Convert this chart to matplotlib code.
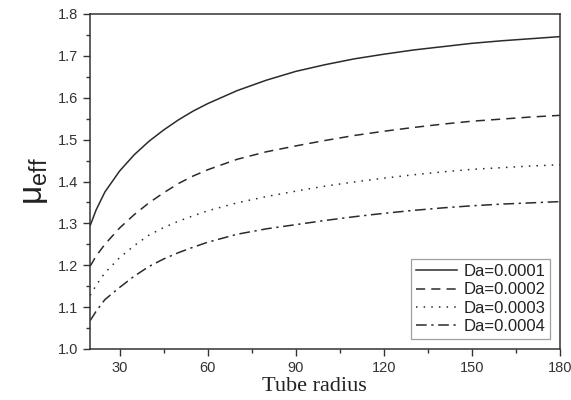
import numpy as np
import matplotlib
matplotlib.use("Agg")
import matplotlib.pyplot as plt
from matplotlib.ticker import MultipleLocator

# values
radius = [20, 22, 25, 30, 35, 40, 45, 50, 55, 60, 70, 80, 90, 100, 110, 120, 130, 140, 150, 160, 170, 180]
da1 = [1.295, 1.332, 1.375, 1.425, 1.464, 1.496, 1.523, 1.547, 1.568, 1.586, 1.617, 1.642, 1.663, 1.679, 1.693, 1.704, 1.714, 1.722, 1.730, 1.736, 1.741, 1.746]
da2 = [1.198, 1.222, 1.250, 1.289, 1.321, 1.349, 1.373, 1.395, 1.413, 1.428, 1.453, 1.471, 1.485, 1.498, 1.510, 1.520, 1.529, 1.537, 1.544, 1.549, 1.554, 1.558]
da3 = [1.128, 1.152, 1.182, 1.218, 1.247, 1.272, 1.290, 1.305, 1.318, 1.330, 1.349, 1.364, 1.377, 1.389, 1.399, 1.408, 1.416, 1.423, 1.429, 1.433, 1.437, 1.440]
da4 = [1.068, 1.090, 1.118, 1.147, 1.174, 1.197, 1.215, 1.230, 1.243, 1.255, 1.274, 1.287, 1.297, 1.307, 1.316, 1.324, 1.331, 1.337, 1.342, 1.346, 1.349, 1.352]
labels = ["Da=0.0001", "Da=0.0002", "Da=0.0003", "Da=0.0004"]

plt.rcParams["font.family"] = ["Liberation Sans", "DejaVu Sans"]
plt.rcParams["mathtext.fontset"] = "custom"
plt.rcParams["mathtext.rm"] = "Liberation Sans"
plt.rcParams["mathtext.it"] = "Liberation Sans:italic"

fig = plt.figure(figsize=(5.71, 4.0), dpi=100)
ax = fig.add_axes([0.158, 0.1275, 0.823, 0.8375])

col = "#2b2b2b"
styles = ["-", (0, (6, 4)), (0, (1, 4)), (0, (7, 3, 1.5, 3))]
for ys, ls, lab in zip([da1, da2, da3, da4], styles, labels):
    ax.plot(radius, ys, color=col, lw=1.1, linestyle=ls, label=lab)

ax.set_xlim(20, 180)
ax.set_ylim(1.0, 1.8)
ax.xaxis.set_major_locator(MultipleLocator(30))
ax.xaxis.set_minor_locator(MultipleLocator(15))
ax.yaxis.set_major_locator(MultipleLocator(0.1))
ax.yaxis.set_minor_locator(MultipleLocator(0.05))
ax.yaxis.set_major_formatter(plt.FormatStrFormatter("%.1f"))
ax.tick_params(which="major", direction="out", length=5, width=1, labelsize=10.5,
               colors="#333333", top=False, right=False)
ax.tick_params(which="minor", direction="out", length=3, width=1, top=False, right=False,
               colors="#333333")
for s in ax.spines.values():
    s.set_color("#333333")
    s.set_linewidth(1.1)

ax.set_xlabel("Tube radius", family=["Liberation Serif"], fontsize=16, color="#222222")
ax.xaxis.set_label_coords(0.477, -0.085)
ax.set_ylabel(r"μ$_{\mathrm{eff}}$", fontsize=24, color="#222222", labelpad=6)

leg = ax.legend(loc="lower right", fontsize=12, handlelength=2.5, handletextpad=0.35,
                labelspacing=0.2, borderpad=0.3, borderaxespad=0.6, fancybox=False,
                frameon=True)
leg.get_frame().set_edgecolor("#888888")
leg.get_frame().set_linewidth(0.9)
for t in leg.get_texts():
    t.set_color("#222222")

fig.savefig("out.png", dpi=100)
